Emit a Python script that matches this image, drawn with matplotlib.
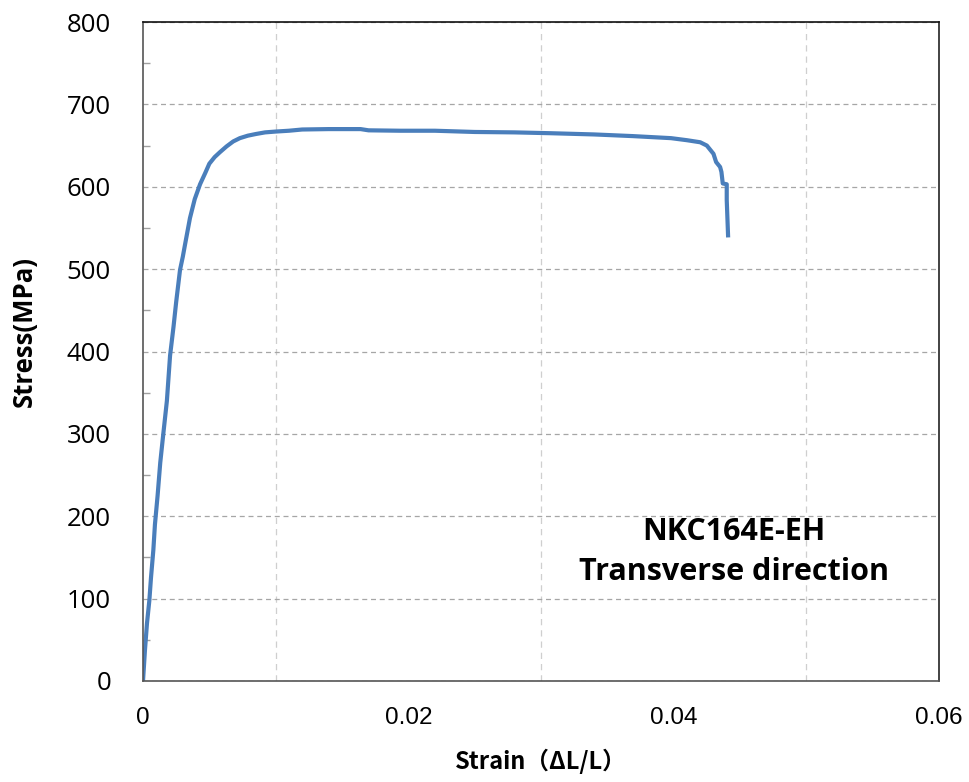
import numpy as np
import matplotlib
matplotlib.use('Agg')
import matplotlib.pyplot as plt
from matplotlib.ticker import MultipleLocator

# stress-strain curve
strain = [0, 0.00015, 0.0003, 0.00048, 0.0006, 0.00078, 0.0009, 0.0011, 0.0013,
          0.00153, 0.0018, 0.00204, 0.0023, 0.0025, 0.00279, 0.003, 0.00317,
          0.00354, 0.0039, 0.0043, 0.0047, 0.005, 0.0054, 0.0058, 0.0063,
          0.0068, 0.0073, 0.0079, 0.0085, 0.0092, 0.0100, 0.0110, 0.0120,
          0.0140, 0.0164, 0.0170, 0.0194, 0.0220, 0.0250, 0.0280, 0.0307,
          0.0340, 0.0369, 0.0398, 0.0410, 0.0420, 0.0425, 0.0430, 0.0432,
          0.0435, 0.0436, 0.0437, 0.0440, 0.0440, 0.0441]
stress = [0, 38, 70, 98, 125, 159, 190, 225, 265,
          300, 340, 395, 430, 460, 499, 515, 530,
          562, 585, 603, 617, 628, 636, 642, 649,
          655, 659, 662, 664, 666, 667, 668, 669.5,
          670, 670, 668.5, 668, 668, 666.5, 666, 665,
          663.5, 661.5, 659, 656.5, 654, 650, 640, 630,
          624, 618, 604, 603, 584, 541]

xticks = [0, 0.02, 0.04, 0.06]
xticklabels = ['0', '0.02', '0.04', '0.06']
yticks = [0, 100, 200, 300, 400, 500, 600, 700, 800]

fig = plt.figure(figsize=(9.7, 7.82), dpi=100)
ax = fig.add_axes([143/970, 101/782, 796/970, 659/782])

ax.plot(strain, stress, color='#4a7ebb', lw=3.0, solid_joinstyle='round')

ax.set_xlim(0, 0.06)
ax.set_ylim(0, 800)
ax.set_xticks(xticks)
ax.set_xticklabels(xticklabels, fontfamily='Liberation Sans', fontsize=17.5)
ax.xaxis.set_minor_locator(MultipleLocator(0.01))
ax.set_yticks(yticks)
ax.set_yticklabels([str(v) for v in yticks], fontfamily='Open Sans', fontsize=18.5)
ax.yaxis.set_minor_locator(MultipleLocator(50))

ax.tick_params(axis='x', which='both', length=0, pad=19)
ax.tick_params(axis='y', which='major', length=0, pad=23)
ax.tick_params(axis='y', which='minor', direction='in', length=5, color='#a0a0a0', width=1)

ax.grid(which='major', axis='y', color='#a6a6a6', ls=(0, (4, 3)), lw=0.9)
ax.grid(which='minor', axis='x', color='#cfcfcf', ls=(0, (5, 4)), lw=0.9)

ax.spines['top'].set_color('#111111')
ax.spines['right'].set_color('#222222')
ax.spines['left'].set_color('#555555')
ax.spines['bottom'].set_color('#555555')
for s in ax.spines.values():
    s.set_linewidth(1.2)

ax.set_xlabel('Strain（ΔL/L）', fontfamily=['Noto Sans CJK JP', 'DejaVu Sans'],
              fontweight='bold', fontsize=17)
ax.xaxis.set_label_coords(0.50, -0.103)
ax.set_ylabel('Stress(MPa)', fontfamily='Open Sans', fontweight='bold', fontsize=18.5)
ax.yaxis.set_label_coords(-0.132, 0.53)

ax.text(0.04455, 157, 'NKC164E-EH\nTransverse direction', ha='center', va='center',
        fontfamily='Open Sans', fontweight='bold', fontsize=22, linespacing=1.42)

fig.savefig('out.png', dpi=100)
